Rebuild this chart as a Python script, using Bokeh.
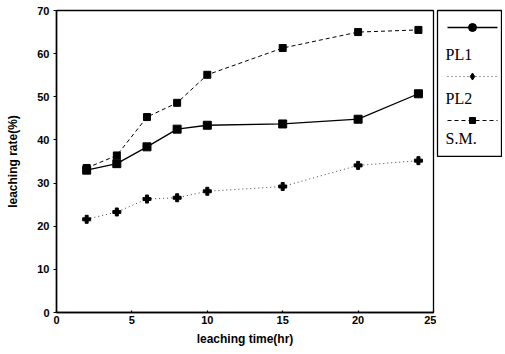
from bokeh.plotting import figure
from bokeh.layouts import row
from bokeh.models import Range1d, FixedTicker
from bokeh.core.properties import value
from bokeh.embed import file_html
from bokeh.resources import INLINE

# ---- data ----
time_hr = [2, 4, 6, 8, 10, 15, 20, 24]
pl1 = [33.0, 34.5, 38.4, 42.5, 43.4, 43.7, 44.8, 50.7]
pl2 = [21.6, 23.3, 26.3, 26.6, 28.1, 29.2, 34.1, 35.2]
sm = [33.5, 36.4, 45.3, 48.6, 55.1, 61.3, 65.0, 65.5]
x_ticks = [0, 5, 10, 15, 20, 25]
y_ticks = [0, 10, 20, 30, 40, 50, 60, 70]
legend_labels = ["PL1", "PL2", "S.M."]

SANS = "Liberation Sans"
SERIF = "Liberation Serif"

p = figure(width=436, height=348, x_range=Range1d(0, 25), y_range=Range1d(0, 70),
           output_backend="svg", toolbar_location=None,
           min_border_left=56, min_border_right=3, min_border_top=10, min_border_bottom=35)
p.xgrid.visible = False
p.ygrid.visible = False
p.outline_line_color = "black"
p.outline_line_width = 1.3
p.background_fill_color = "white"
p.border_fill_color = "white"

for ax in (p.xaxis, p.yaxis):
    ax.axis_line_color = "black"
    ax.axis_line_width = 1.5
    ax.major_tick_line_color = "black"
    ax.major_tick_line_width = 1.2
    ax.minor_tick_line_color = None
    ax.major_label_text_font = SANS
    ax.major_label_text_font_style = "bold"
    ax.major_label_text_font_size = "11px"
    ax.major_label_text_color = "black"
    ax.axis_label_text_font = SANS
    ax.axis_label_text_font_style = "bold"
    ax.axis_label_text_font_size = "12px"
    ax.axis_label_text_color = "black"

p.xaxis.ticker = FixedTicker(ticks=x_ticks)
p.yaxis.ticker = FixedTicker(ticks=y_ticks)
p.xaxis.major_tick_in = 2
p.xaxis.major_tick_out = 0
p.yaxis.major_tick_in = 0
p.yaxis.major_tick_out = 3
p.xaxis.major_label_standoff = 3
p.yaxis.major_label_standoff = 4
p.xaxis.axis_label_standoff = 5
p.yaxis.axis_label_standoff = 14
p.xaxis.axis_label = "leaching time(hr)"
p.yaxis.axis_label = "leaching rate(%)"

# PL1: solid with squares
p.line(time_hr, pl1, line_color="black", line_width=1.3)
p.scatter(time_hr, pl1, marker="square", size=8, fill_color="black", line_color="black")
# PL2: dotted with plus/diamond markers
p.line(time_hr, pl2, line_color="#444444", line_width=1, line_dash="1 3")
p.scatter(time_hr, pl2, marker="plus", size=8, fill_color="black", line_color="black")
p.scatter(time_hr, pl2, marker="diamond", size=6, fill_color="black", line_color="black")
# S.M.: dashed with squares
p.line(time_hr, sm, line_color="black", line_width=1, line_dash="4 3")
p.scatter(time_hr, sm, marker="square", size=7, fill_color="black", line_color="black")

# ---- legend panel (glyph above label, as in the reference) ----
leg = figure(frame_width=64, frame_height=147, x_range=Range1d(0, 64), y_range=Range1d(147, 0),
             output_backend="svg", toolbar_location=None, title=None,
             x_axis_location=None, y_axis_location=None,
             min_border_left=1, min_border_right=1, min_border_top=6, min_border_bottom=4)
leg.xgrid.visible = False
leg.ygrid.visible = False
leg.outline_line_color = "black"
leg.outline_line_width = 1.3
leg.border_fill_color = "white"

sample_x = [10, 60]
glyph_y = [17, 66, 110]
label_y = [44, 88, 128]
styles = [
    dict(line_dash="solid", line_width=1.3, color="black", marker="circle", size=8),
    dict(line_dash="1 3", line_width=1, color="#444444", marker="diamond", size=7),
    dict(line_dash="4 3", line_width=1, color="black", marker="square", size=6),
]
for gy, ly, lab, st in zip(glyph_y, label_y, legend_labels, styles):
    leg.line(sample_x, [gy, gy], line_color=st["color"], line_width=st["line_width"],
             line_dash=st["line_dash"])
    leg.scatter([sum(sample_x) / 2], [gy], marker=st["marker"], size=st["size"],
                fill_color="black", line_color="black")
    leg.text([8], [ly], text=[lab], text_font=value(SERIF), text_font_size="16px",
             text_baseline="middle", text_align="left", text_color="black")

layout = row(p, leg)
open("out.html", "w").write(file_html(layout, INLINE))
